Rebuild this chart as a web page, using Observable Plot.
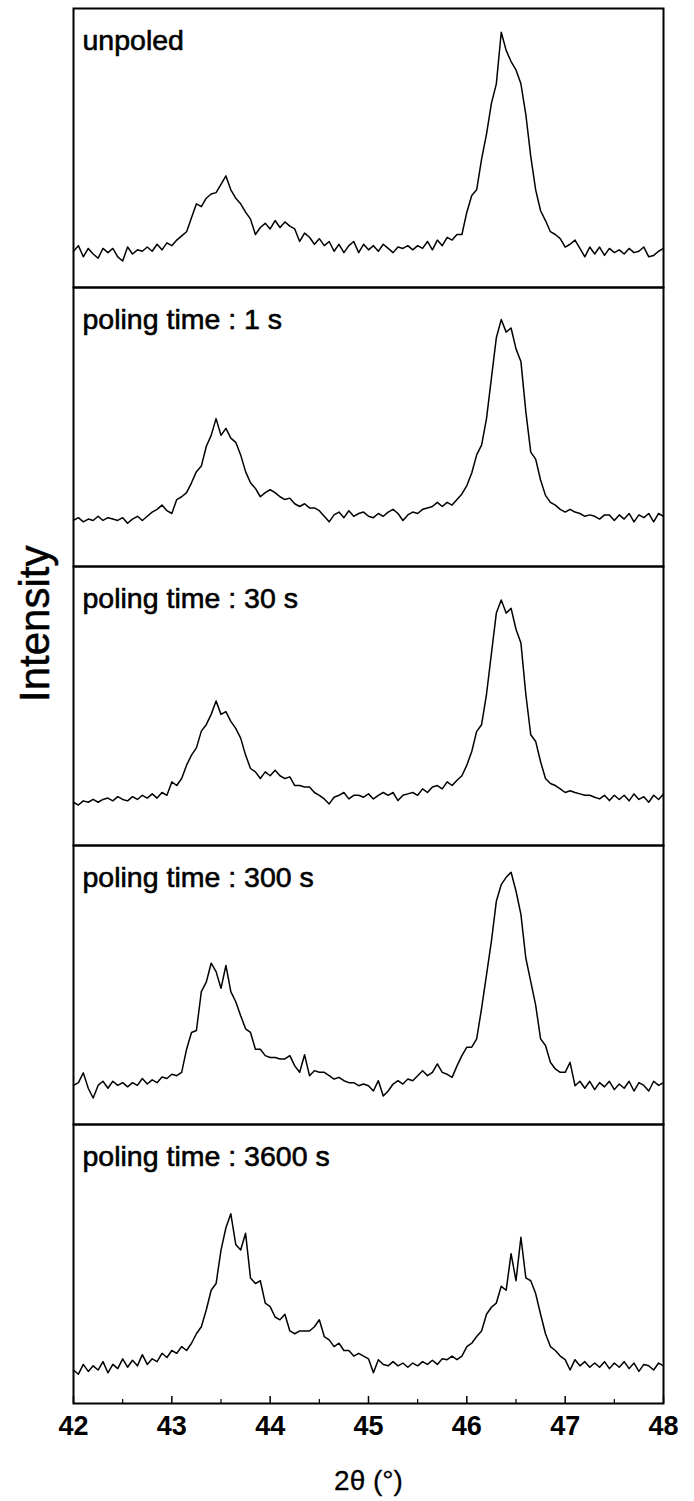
<!DOCTYPE html>
<html>
<head>
<meta charset="utf-8">
<script src="https://cdn.jsdelivr.net/npm/d3@7"></script>
<script src="https://cdn.jsdelivr.net/npm/@observablehq/plot@0.6"></script>
<style>
  html, body { margin: 0; padding: 0; background: #fff; }
</style>
</head>
<body>
<div id="chart"></div>
<script>
// Panel labels (top to bottom)
const panels = ["unpoled", "poling time : 1 s", "poling time : 30 s", "poling time : 300 s", "poling time : 3600 s"];

// 2θ sampling grid: 42.00 … 48.00, step 0.05 (121 points)
const twoThetaStart = 42;
const twoThetaStep = 0.05;

const unpoled = [
  13, 15, 11, 14, 12, 10.5, 14, 12.5, 14, 11,
  9.5, 14.5, 12, 13.5, 13, 14.5, 13, 15.5, 13.5, 16,
  15, 17, 18.5, 20, 25, 30, 29, 32, 33.5, 34,
  37, 40, 35, 32, 30, 27, 24.5, 19, 21.5, 23,
  21, 24, 21.5, 23.5, 22, 21, 16.5, 19.5, 18, 15.5,
  17.5, 15, 16.5, 13, 15.5, 12.5, 15, 16.5, 12.5, 15.5,
  13.5, 15, 13, 15.5, 14, 12.5, 14.5, 14, 15, 13.5,
  15, 14, 16.5, 13.5, 17, 15, 18, 17, 19, 19,
  27, 33, 35, 46, 55, 66, 73, 91.5, 85, 81,
  78, 73, 62, 47, 35, 27.5, 24, 20, 19, 17.5,
  14.5, 15.5, 17, 14, 11, 14.5, 12, 14.5, 11.5, 14,
  12.5, 13.5, 12, 14, 12.5, 13, 14.5, 11, 11.5, 13,
  14
];
const poling1s = [
  16.5, 17.5, 16, 17, 16.5, 18, 16.5, 17.5, 17, 16.5,
  17.5, 15.5, 17, 18, 16.5, 18, 19.5, 20.5, 22, 20,
  19, 24, 25, 26.5, 30, 34, 36, 43, 47, 53,
  47, 49.5, 46, 44.5, 40, 34, 30, 28, 25, 26.5,
  27.5, 26.5, 25, 24, 24.5, 22.5, 21.5, 22.5, 21, 21,
  20, 18, 16, 18.5, 19.5, 17.5, 20, 18, 19, 19.5,
  18, 17.5, 19, 18, 19.5, 20.5, 19, 16.5, 18.5, 19.5,
  19, 20.5, 21, 21.5, 23, 21.5, 23, 22, 24, 26,
  29, 33.5, 40, 43.5, 53, 67.5, 82, 88.5, 84, 85.5,
  78, 73.5, 55.5, 41, 38.5, 31, 25.5, 23, 22, 20.5,
  19.5, 20.5, 19.5, 19, 18, 18.5, 18, 17, 18.5, 18.5,
  16.5, 18.5, 17, 19, 16, 18.5, 17.5, 19, 16, 19,
  18
];
const poling30s = [
  15.5, 14.5, 16, 15.5, 16.5, 15.5, 16.5, 17, 16, 17.5,
  16.5, 16, 17.5, 16.5, 18, 17, 18.5, 17, 19, 18,
  22.8, 21.5, 24, 28.8, 32.4, 35, 41, 43.3, 47, 51.8,
  47, 48, 44.5, 42, 38.5, 32.4, 27.6, 26.4, 24, 26.4,
  25, 27, 25, 24, 24.6, 21.5, 21.5, 21, 21, 19,
  18, 16.7, 14.9, 17.3, 18, 19, 16.7, 18, 18, 17.3,
  18.5, 16.7, 18, 19, 18, 19, 16.1, 18, 18.5, 19,
  18, 20.3, 19, 21, 21.5, 20.3, 22.8, 21.5, 23.4, 25,
  28.8, 33.7, 40.9, 43.3, 54.2, 68.8, 83.3, 88, 83.3, 85,
  77.5, 72.6, 54.2, 39.7, 37.3, 30, 24, 22.2, 21.5, 20.3,
  19, 19.6, 19, 18.5, 18, 18, 17.3, 16.7, 18, 16.1,
  18, 16.5, 18, 16, 18.5, 16.5, 17.5, 15.5, 18, 16.5,
  18.5
];
const poling300s = [
  14, 15, 18.5, 13, 9.5, 14, 15.5, 13, 15.5, 14,
  15, 13.5, 15, 14, 16.5, 14.5, 16, 15, 17, 16.5,
  18, 17.5, 18.7, 27, 33, 33.7, 47.6, 51, 57.8, 54.8,
  48.8, 57, 47.6, 44, 39, 34.3, 33, 27, 27, 24.7,
  24, 24, 23.5, 23.5, 24.7, 21, 18.7, 25, 17.5, 19.3,
  18.7, 18.7, 17.5, 16.3, 16.9, 15.7, 15, 15, 13.9, 14.5,
  13.9, 12, 15.7, 10.2, 12, 14.5, 15.7, 14.5, 16.3, 15.7,
  17.5, 19.3, 17.5, 18.7, 21.7, 18.7, 18, 16.9, 21, 24.7,
  27.7, 27.7, 30.7, 41.6, 53.6, 65.7, 80, 86, 88.6, 90.4,
  83.7, 75.3, 59.6, 51.2, 42.8, 30.7, 28.3, 22.3, 19.9, 18.7,
  18.7, 22.3, 13.9, 15.5, 13, 15.5, 12.5, 15, 13.5, 15.5,
  12.5, 14.5, 13, 15.5, 12, 15, 14, 12, 15.5, 14,
  15
];
const poling3600s = [
  12, 10.5, 14, 11.5, 13.5, 12, 15, 11, 14, 12.5,
  16, 13, 15.5, 13.5, 17.5, 14, 16, 15, 18, 16.5,
  19, 18, 20.4, 19, 21.6, 25, 27.5, 33.5, 40.6, 43,
  55, 63, 68, 57, 55, 61, 45, 43, 44, 36,
  34.7, 31, 30, 32, 26, 25, 26, 26, 26, 27.5,
  30, 24, 22.8, 20.4, 21.6, 19, 19, 17, 18, 17,
  16, 11, 15.7, 14, 13.5, 15, 13.5, 14.5, 13, 14.5,
  13.5, 15, 14, 15.5, 14, 16, 15.7, 17, 15.7, 17,
  20.4, 21.6, 24, 26, 32, 34.5, 36, 42, 40.6, 53.7,
  44, 59.6, 45, 44, 39.4, 32, 25, 20.4, 19, 17,
  15.7, 12, 15.7, 13.5, 15, 13, 14.5, 13, 15, 12.5,
  14.5, 13, 15, 12.5, 14.5, 11.5, 14, 13.5, 12, 14.5,
  13.5
];

// Axis ticks
const xTicks = [42, 43, 44, 45, 46, 47, 48];
const xMinorTicks = [42.5, 43.5, 44.5, 45.5, 46.5, 47.5];
const xTitle = "2θ (°)";
const yTitle = "Intensity";

// Long table built from the arrays
const series = [unpoled, poling1s, poling30s, poling300s, poling3600s];
const rows = [];
series.forEach((arr, k) => {
  arr.forEach((v, i) => {
    rows.push({panel: panels[k], theta: +(twoThetaStart + twoThetaStep * i).toFixed(2), intensity: v});
  });
});

const font = "'Liberation Sans', Arial, Helvetica, sans-serif";
const bottomPanel = panels[panels.length - 1];
const middlePanel = panels[2];

const chart = Plot.plot({
  width: 694,
  height: 1501,
  marginTop: 8,
  marginBottom: 98,
  marginLeft: 73,
  marginRight: 31,
  style: {fontFamily: font, background: "#ffffff", color: "black"},
  x: {domain: [42, 48]},
  y: {domain: [0, 100], axis: null},
  fy: {domain: panels, padding: 0, axis: null},
  marks: [
    Plot.frame({stroke: "black", strokeWidth: 2}),
    Plot.line(rows, {x: "theta", y: "intensity", fy: "panel", stroke: "black", strokeWidth: 1.5, strokeLinejoin: "round"}),
    Plot.text(panels, {
      fy: d => d, text: d => d, frameAnchor: "top-left", textAnchor: "start",
      lineAnchor: "top", dx: 9, dy: 21, fontSize: 28.5, fill: "black", stroke: "black", strokeWidth: 0.6
    }),
    // inward major and minor ticks on the bottom panel
    Plot.tickX(xTicks, {x: d => d, fy: xTicks.map(() => bottomPanel), insetTop: 272, stroke: "black", strokeWidth: 1.5}),
    Plot.tickX(xMinorTicks, {x: d => d, fy: xMinorTicks.map(() => bottomPanel), insetTop: 275, stroke: "black", strokeWidth: 1.2}),
    Plot.axisX({ticks: xTicks, tickSize: 0, tickPadding: 12, fontSize: 27, fontWeight: "bold", label: null, tickFormat: d => String(d)}),
    Plot.text([xTitle], {fy: [bottomPanel], text: d => d, frameAnchor: "bottom", lineAnchor: "middle", dy: 78, fontSize: 28, fill: "black", stroke: "black", strokeWidth: 0.3}),
    Plot.text([yTitle], {fy: [middlePanel], text: d => d, frameAnchor: "left", rotate: -90, lineAnchor: "middle", dx: -38, dy: -4, fontSize: 42, fill: "black", stroke: "black", strokeWidth: 0.5, ariaLabel: "ylabel"})
  ]
});

d3.select(chart).selectAll('g[aria-label="ylabel"] text').style("letter-spacing", "4.5px");
document.getElementById("chart").appendChild(chart);
</script>
</body>
</html>
